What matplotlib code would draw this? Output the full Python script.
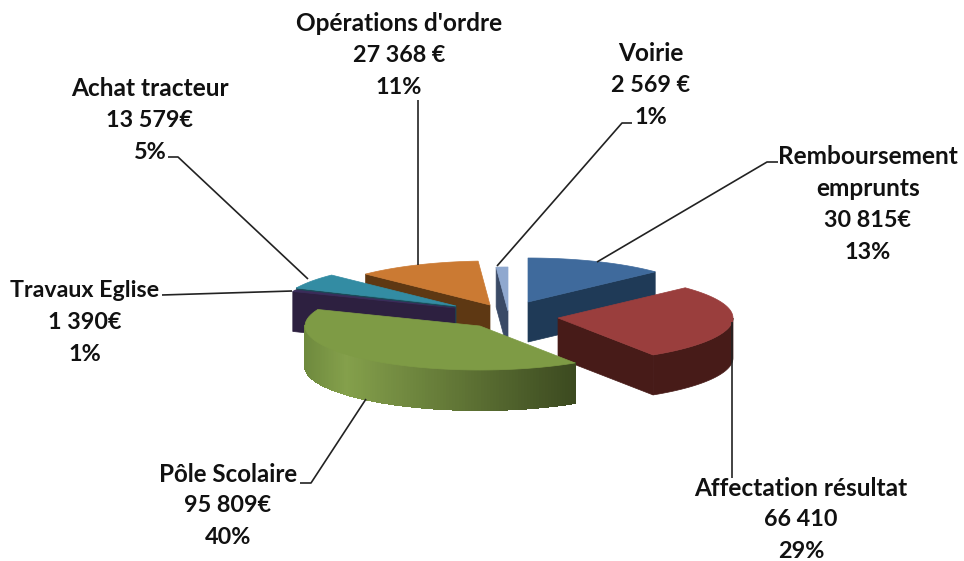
import numpy as np
import matplotlib.pyplot as plt
from matplotlib.colors import to_rgb

plt.rcParams['font.family'] = ['Lato', 'DejaVu Sans']

# clockwise from the top
names = ['Remboursement\nemprunts', 'Affectation résultat', 'Pôle Scolaire',
         'Travaux Eglise', 'Achat tracteur', "Opérations d'ordre", 'Voirie']
values = [30815, 66410, 95809, 1390, 13579, 27368, 2569]
value_labels = ['30 815€', '66 410', '95 809€', '1 390€', '13 579€', '27 368 €', '2 569 €']
pct_labels = ['13%', '29%', '40%', '1%', '5%', '11%', '1%']

top_colors = ['#3F6A9C', '#9A3E3D', '#7E9B45', '#3B2C5A', '#338CA3', '#CB7A33', '#8FA8CF']
side_colors = ['#1F3A57', '#471B18', '#5E7433', '#2D2040', '#1A4A58', '#5E3813', '#3A4A66']

# pie shape, in pixels of the original picture
cx, cy = 507, 315
rx, ry = 175, 44
depth = 40
# how far each slice is pulled out of the pie
explode_x = [21, 51, -27, -52, -51, -17, 1]
explode_y = [-13, 3, 11, -7, -9, -10, -4]
draw_order = [6, 5, 4, 3, 0, 1, 2]

# label centre x, first line y, name size, then leader line
label_x = [868, 801, 228, 85, 150, 399, 651]
label_y = [156, 488, 474, 290, 88, 23, 53]
name_sizes = [17.6, 17.6, 17.4, 16.7, 17.6, 17.6, 17.6]
leaders = [
    [(597, 262), (767, 162), (778, 162)],
    [(732, 322), (732, 478)],
    [(366, 399), (311, 483), (300, 483)],
    [(292, 291), (162, 295)],
    [(308, 279), (178, 157), (168, 157)],
    [(418, 265), (418, 100)],
    [(497, 266), (622, 123), (632, 123)],
]

fig = plt.figure(figsize=(9.64, 5.61), dpi=100)
ax = fig.add_axes([0, 0, 1, 1])
ax.set_xlim(0, 964)
ax.set_ylim(561, 0)
ax.axis('off')

edges = np.cumsum([0] + values) / sum(values) * 360


def rim_point(x0, y0, angle):
    t = np.radians(angle)
    return x0 + rx * np.sin(t), y0 - ry * np.cos(t)


def draw_face(x0, y0, angle, color):
    x1, y1 = rim_point(x0, y0, angle)
    ax.fill([x0, x1, x1, x0], [y0, y1, y1 + depth, y0 + depth], color=color, lw=0.5)


green_dark = np.array(to_rgb('#3C4A20'))
green_light = np.array(to_rgb('#84A04B'))
green_left = np.array(to_rgb('#6F8A3E'))

for i in draw_order:
    a, b = edges[i], edges[i + 1]
    x0, y0 = cx + explode_x[i], cy + explode_y[i]

    # cut faces turned towards the viewer
    if np.sin(np.radians(a)) < 0:
        draw_face(x0, y0, a, side_colors[i])
    if np.sin(np.radians(b)) > 0:
        draw_face(x0, y0, b, side_colors[i])

    # outer wall, front half only
    lo, hi = max(a, 90), min(b, 270)
    if lo < hi and i != 2:
        px, py = rim_point(x0, y0, np.linspace(lo, hi, 60))
        ax.fill(np.r_[px, px[::-1]], np.r_[py, py[::-1] + depth], color=side_colors[i], lw=0.5)
    elif lo < hi:
        # the green wall fades from the left to the right
        steps = np.linspace(lo, hi, 120)
        for s0, s1 in zip(steps[:-1], steps[1:]):
            x1, y1 = rim_point(x0, y0, s0)
            x2, y2 = rim_point(x0, y0, s1)
            f = (x1 - (x0 - rx)) / (2 * rx * 0.77)
            if f < 0.15:
                color = green_left + (green_light - green_left) * f / 0.15
            else:
                color = green_light + (green_dark - green_light) * min((f - 0.15) / 0.85, 1)
            ax.fill([x1, x2, x2, x1], [y1, y2, y2 + depth, y1 + depth], color=color, lw=0.8,
                    edgecolor=color, antialiased=False)

    # top of the slice
    px, py = rim_point(x0, y0, np.linspace(a, b, 60))
    ax.fill(np.r_[x0, px], np.r_[y0, py], color=top_colors[i], lw=0.5)

for line in leaders:
    xs, ys = zip(*line)
    ax.plot(xs, ys, color='#222222', lw=1.2, solid_capstyle='butt')

for i in range(len(names)):
    name_rows = names[i].split('\n')
    rows = name_rows + [value_labels[i], pct_labels[i]]
    for k, row in enumerate(rows):
        size = name_sizes[i] if k < len(name_rows) else 16.8
        ax.text(label_x[i], label_y[i] + k * 32, row, ha='center', va='center',
                fontsize=size, fontweight='bold', color='#111111')

fig.savefig('out.png', dpi=100)
